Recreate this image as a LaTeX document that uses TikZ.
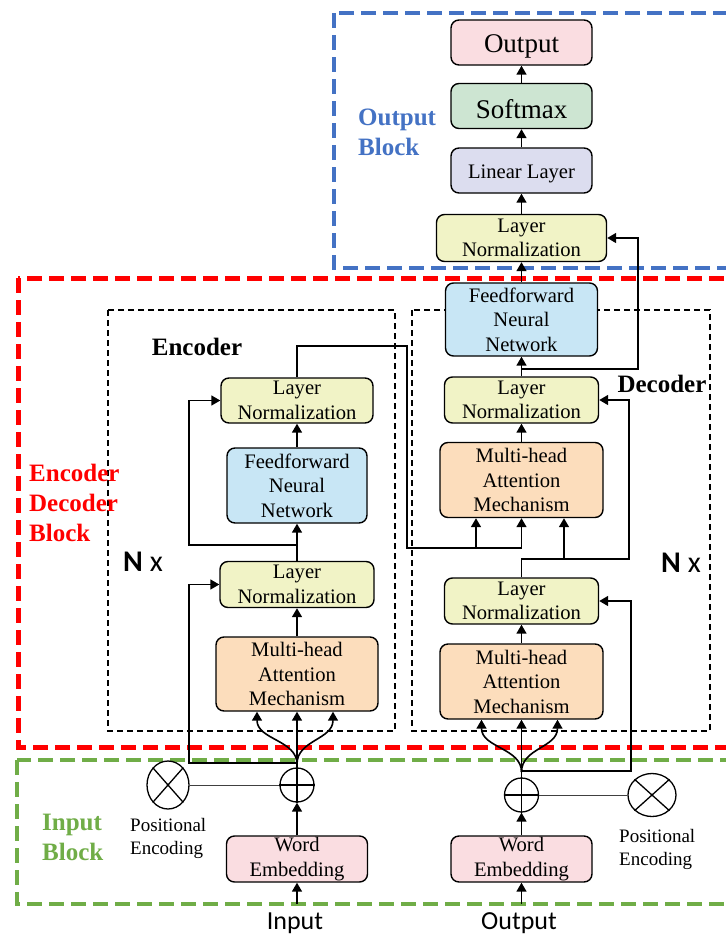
\documentclass[tikz,border=0pt]{standalone}
\usepackage{fontspec}
\setmainfont{Liberation Serif}
\newfontfamily\carl{Carlito}
\usetikzlibrary{arrows.meta,shapes.geometric}
\definecolor{lnc}{HTML}{F1F3C6}
\definecolor{ffc}{HTML}{C8E6F5}
\definecolor{mhc}{HTML}{FCDDBC}
\definecolor{pkc}{HTML}{FADDE1}
\definecolor{smc}{HTML}{CDE5D2}
\definecolor{llc}{HTML}{DCDDEF}
\definecolor{bluec}{HTML}{4472C4}
\definecolor{redc}{HTML}{FF0000}
\definecolor{greenc}{HTML}{70AD47}
\begin{document}
\begin{tikzpicture}[x=1pt,y=-1pt,
 box/.style={draw, line width=1.4pt, rounded corners=8pt, inner sep=0pt, align=center, font=\fontsize{20.6}{24.5}\selectfont, execute at begin node={\rule{0pt}{0.97em}}},
 lnbox/.style={box, fill=lnc, minimum width=154pt, minimum height=46pt},
 ffbox/.style={box, fill=ffc, minimum height=74pt},
 mhbox/.style={box, fill=mhc, minimum width=163pt, minimum height=75pt},
 embbox/.style={box, fill=pkc, minimum width=141pt, minimum height=46pt},
 arr/.style={line width=1.6pt, -{Triangle[length=9pt,width=10pt]}},
 wire/.style={line width=1.6pt},
 thinwire/.style={line width=1pt, black!75},
 ring/.style={draw, line width=1.3pt, inner sep=0pt},
 innerbox/.style={draw, dash pattern=on 6pt off 4pt, line width=1.2pt},
 blk/.style={line width=4.5pt, dash pattern=on 15pt off 7pt},
 blklabel/.style={font=\bfseries\fontsize{25}{30}\selectfont, align=left, anchor=west, inner sep=0pt},
 pelabel/.style={font=\fontsize{19}{23}\selectfont, align=left, anchor=west, inner sep=0pt},
 nx/.style={font=\carl\fontsize{30}{36}\selectfont, inner sep=0pt},
 iolabel/.style={font=\carl\fontsize{26}{30}\selectfont, inner sep=0pt},
 sectlabel/.style={font=\bfseries\fontsize{25}{30}\selectfont, inner sep=0pt},
]
\useasboundingbox (0,0) rectangle (726,938);
\clip (0,0) rectangle (726,938);
\fill[white] (0,0) rectangle (726,938);

% outer blocks
\draw[blk, bluec] (334,13) rectangle (760,268);
\draw[blk, redc, line width=5pt] (18,278) rectangle (760,747);
\draw[blk, greenc] (17,760) rectangle (760,904);

% inner dashed boxes
\draw[innerbox] (108,310) rectangle (395,731);
\draw[innerbox] (412,310) rectangle (710,731);

% output block
\node[box, fill=pkc, minimum width=141pt, minimum height=45pt, font=\fontsize{27}{30}\selectfont] (out) at (521.5,42.5) {Output};
\node[box, fill=smc, minimum width=141pt, minimum height=45pt, font=\fontsize{27}{30}\selectfont] (soft) at (521.5,106) {Softmax};
\node[box, fill=llc, minimum width=141pt, minimum height=45pt] (lin) at (521.5,170.5) {Linear Layer};
\node[lnbox, minimum width=170pt, minimum height=47pt] (lno) at (521.5,238) {Layer\\Normalization};

% decoder
\node[ffbox, minimum width=152pt, minimum height=73pt] (ffd) at (521.5,319.5) {Feedforward\\Neural\\Network};
\node[lnbox] (ln2d) at (521.5,400) {Layer\\Normalization};
\node[mhbox] (mh2d) at (521.5,480) {Multi-head\\Attention\\Mechanism};
\node[lnbox] (ln1d) at (521.5,601) {Layer\\Normalization};
\node[mhbox] (mh1d) at (521.5,681.5) {Multi-head\\Attention\\Mechanism};

% encoder
\node[lnbox, minimum width=152pt, minimum height=45pt] (ln2e) at (297,400.5) {Layer\\Normalization};
\node[ffbox, minimum width=140pt, minimum height=75pt] (ffe) at (297,485.5) {Feedforward\\Neural\\Network};
\node[lnbox] (ln1e) at (297,584.5) {Layer\\Normalization};
\node[mhbox, minimum width=162pt, minimum height=74pt] (mhe) at (297,674) {Multi-head\\Attention\\Mechanism};

% input block
\node[embbox] (emb1) at (297,859) {Word\\Embedding};
\node[embbox] (emb2) at (521.5,859) {Word\\Embedding};
\node[ring, circle, minimum size=34pt] (plus1) at (297,785) {};
\node[ring, ellipse, minimum width=42pt, minimum height=48pt] (pe1) at (168,785) {};
\node[ring, circle, minimum size=34pt] (plus2) at (521.5,795) {};
\node[ring, ellipse, minimum width=48pt, minimum height=43pt] (pe2) at (652,795) {};

% labels
\node[pelabel] (pet1) at (130,838) {Positional\\Encoding};
\node[pelabel] (pet2) at (619,849) {Positional\\Encoding};
\node[iolabel] (inl) at (295,923) {Input};
\node[iolabel] (outl) at (519,923) {Output};
\node[nx] (nxe) at (143,562) {{\bfseries N} x};
\node[nx] (nxd) at (681,563) {{\bfseries N} x};
\node[sectlabel] (encl) at (197,347) {Encoder};
\node[sectlabel] (decl) at (662,384) {Decoder};
\node[blklabel, text=bluec] (obl) at (358,132) {Output\\Block};
\node[blklabel, text=redc] (edl) at (29,503) {Encoder\\Decoder\\Block};
\node[blklabel, text=greenc] (ibl) at (42,837) {Input\\Block};

% output block connectors
\draw[arr] (lno.north) -- (lin.south);
\draw[arr] (lin.north) -- (soft.south);
\draw[arr] (soft.north) -- (out.south);
\draw[arr] (ffd.north) -- (lno.south);

% decoder connectors
\coordinate (r3a) at (521.5,369);
\coordinate (r3b) at (638,369);
\draw[arr] (ln2d.north) -- (ffd.south);
\draw[arr] (r3a) -- (r3b) |- (lno.east);
\draw[arr] (mh2d.north) -- (ln2d.south);
\coordinate (c1) at (521.5,559);
\coordinate (c2) at (629,559);
\coordinate (c3) at (564,559);
\draw[arr] (ln1d.north) -- (c1) -- (c2) |- (ln2d.east);
\draw[arr] (c3) -- (c3 |- mh2d.south);
\draw[arr] (mh1d.north) -- (ln1d.south);

% encoder to decoder
\coordinate (e1) at (297,346);
\coordinate (e2) at (407,346);
\coordinate (e3) at (407,548);
\coordinate (e4) at (521.5,548);
\coordinate (e5) at (476,548);
\draw[wire] (ln2e.north) -- (e1) -- (e2) -- (e3) -- (e4);
\draw[arr] (e4) -- (mh2d.south);
\draw[arr] (e5) -- (e5 |- mh2d.south);

% encoder connectors
\draw[arr] (mhe.north) -- (ln1e.south);
\draw[arr] (ln1e.north) -- (ffe.south);
\draw[arr] (ffe.north) -- (ln2e.south);
\coordinate (r1e) at (297,545);
\coordinate (r1eL) at (189,545);
\draw[arr] (r1e) -- (r1eL) |- (ln2e.west);

% encoder input
\coordinate (inE) at (297,904);
\draw[arr] (inE) -- (emb1.south);
\draw[arr] (emb1.north) -- (plus1.south);
\draw[line width=1.3pt] (plus1.south) -- (plus1.north);
\draw[line width=1.3pt] (plus1.west) -- (plus1.east);
\draw[line width=1.3pt] (pe1.north west) -- (pe1.south east);
\draw[line width=1.3pt] (pe1.north east) -- (pe1.south west);
\draw[thinwire] (pe1.east) -- (plus1.west);
\draw[arr] (plus1.north) -- (mhe.south);
\coordinate (r0e) at (297,763);
\coordinate (r0eL) at (189,763);
\draw[arr] (r0e) -- (r0eL) |- (ln1e.west);
\coordinate (t1l) at ([xshift=-40pt]mhe.south);
\coordinate (t1r) at ([xshift=36pt]mhe.south);
\coordinate (s1) at (297,764);
\draw[arr] (s1) .. controls +(0,-24) and +(0,28) .. (t1l);
\draw[arr] (s1) .. controls +(0,-24) and +(0,28) .. (t1r);

% decoder input
\coordinate (inD) at (521.5,904);
\draw[arr] (inD) -- (emb2.south);
\draw[arr] (emb2.north) -- (plus2.south);
\draw[line width=1.3pt] (plus2.south) -- (plus2.north);
\draw[line width=1.3pt] (plus2.west) -- (plus2.east);
\draw[line width=1.3pt] (pe2.north west) -- (pe2.south east);
\draw[line width=1.3pt] (pe2.north east) -- (pe2.south west);
\draw[thinwire] (plus2.east) -- (pe2.west);
\draw[arr] (plus2.north) -- (mh1d.south);
\coordinate (r0d) at (521.5,771);
\coordinate (r0dR) at (631,771);
\draw[arr] (r0d) -- (r0dR) |- (ln1d.east);
\coordinate (t2l) at ([xshift=-40pt]mh1d.south);
\coordinate (t2r) at ([xshift=36pt]mh1d.south);
\coordinate (s2) at (521.5,772);
\draw[arr] (s2) .. controls +(0,-24) and +(0,28) .. (t2l);
\draw[arr] (s2) .. controls +(0,-24) and +(0,28) .. (t2r);
\end{tikzpicture}
\end{document}
